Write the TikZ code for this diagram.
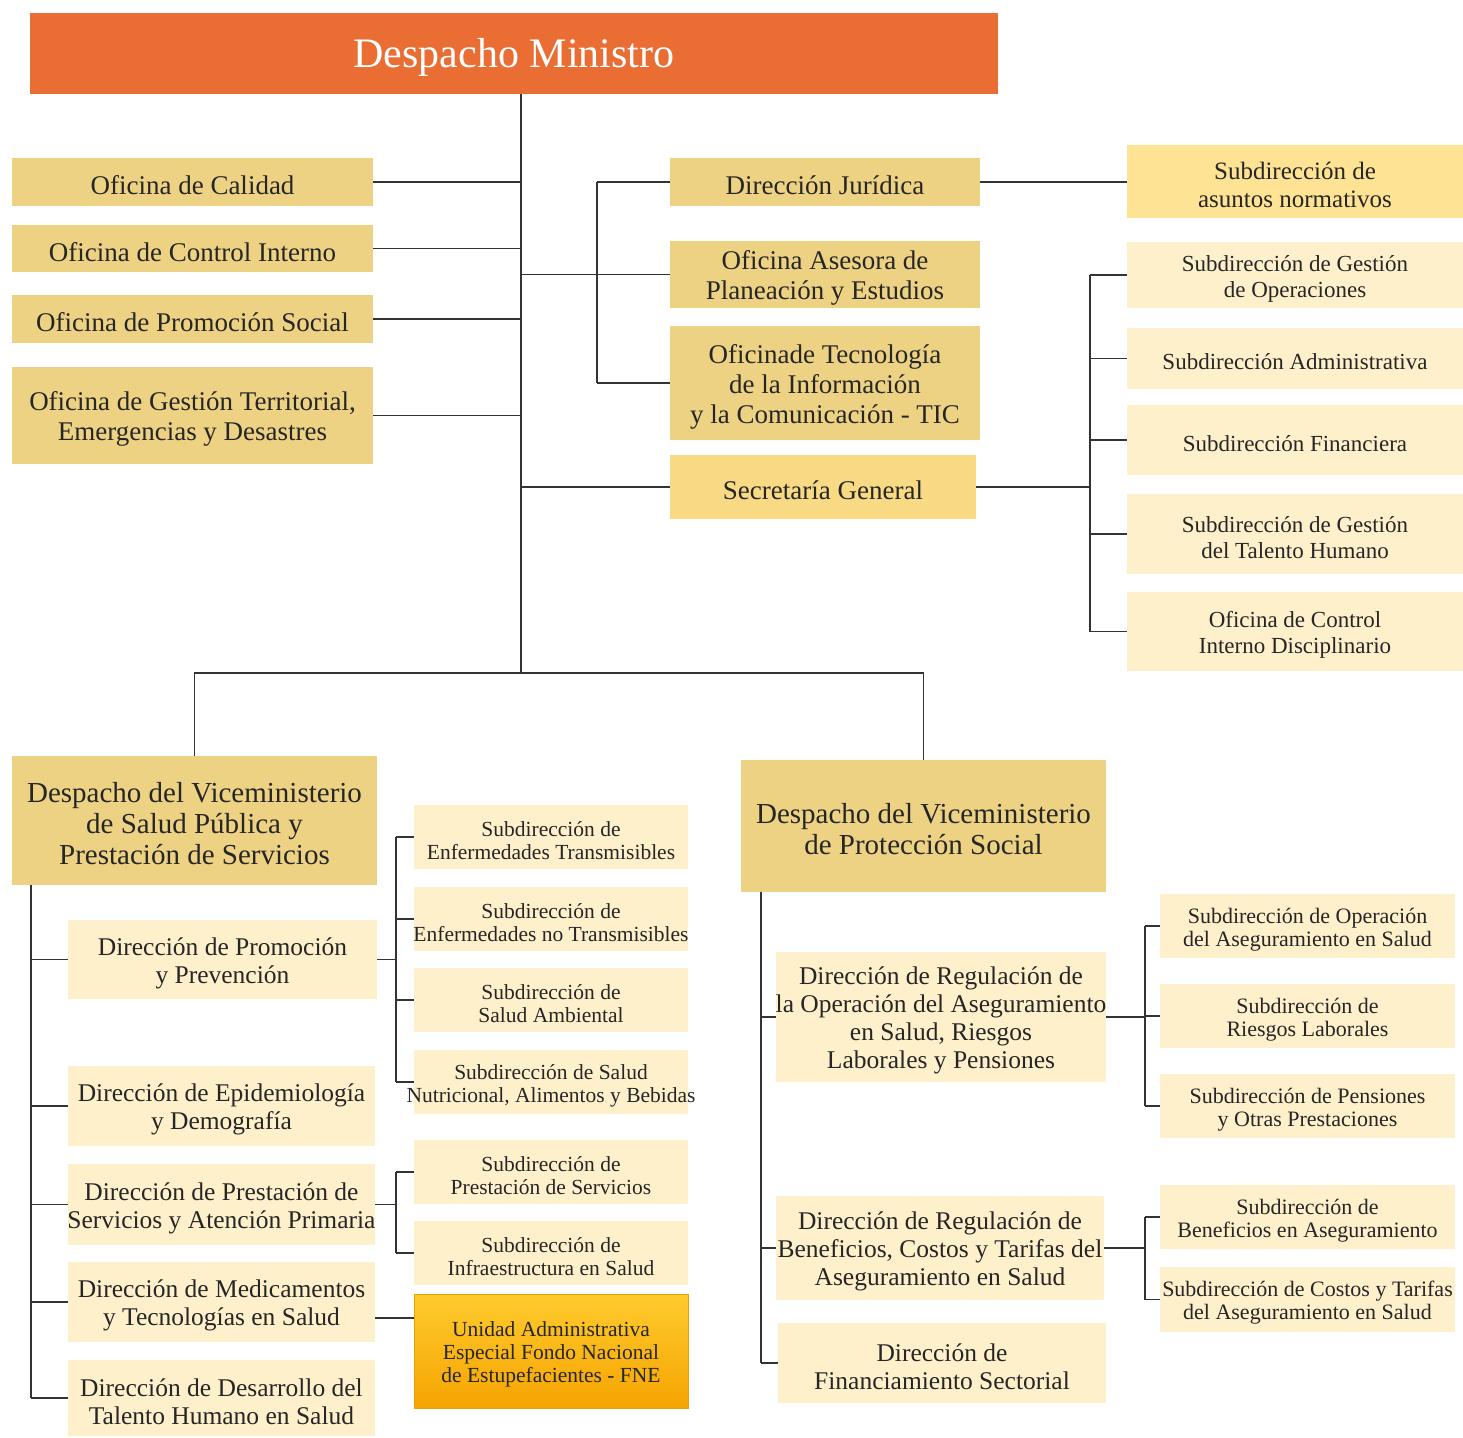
\documentclass[tikz,border=0pt]{standalone}
\usepackage{fontspec}
\setmainfont{Liberation Serif}
\usetikzlibrary{fit}
\definecolor{orng}{HTML}{EA6D33}
\definecolor{tanc}{HTML}{EDD283}
\definecolor{secc}{HTML}{F9DA84}
\definecolor{normc}{HTML}{FFE394}
\definecolor{crm}{HTML}{FFF0CC}
\definecolor{fnetop}{HTML}{FFCB2E}
\definecolor{fnebot}{HTML}{F5A400}
\definecolor{fneln}{HTML}{E9A200}
\definecolor{lnc}{HTML}{333333}
\definecolor{txc}{HTML}{262626}
% \bx{boxstyle}{fontstyle}{name}{x1}{y1}{x2}{y2}{text}
\newcommand{\bx}[8]{%
  \node[fit={(#4,#5)(#6,#7)}, inner sep=0pt, outer sep=0pt, #1] (#3) {};
  \node[inner sep=0pt, align=center, text=txc, yshift=-3.5pt, #2] (#3-t) at (#3.center) {#8};}
\begin{document}
\begin{tikzpicture}[x=1pt,y=-1pt,
  orb/.style={fill=orng},
  tnb/.style={fill=tanc},
  scb/.style={fill=secc},
  nmb/.style={fill=normc},
  crb/.style={fill=crm},
  fneb/.style={top color=fnetop, bottom color=fnebot, draw=fneln, line width=1pt},
  fmin/.style={font=\fontsize{42}{46}\selectfont, text=white},
  fof/.style={font=\fontsize{27}{30}\selectfont},
  fnorm/.style={font=\fontsize{25}{28}\selectfont},
  fsubr/.style={font=\fontsize{23}{26}\selectfont},
  fvice/.style={font=\fontsize{29}{31}\selectfont},
  fdir/.style={font=\fontsize{25.5}{28}\selectfont},
  fsub/.style={font=\fontsize{21.5}{23}\selectfont},
  fsubb/.style={font=\fontsize{22}{23}\selectfont},
  conn/.style={draw=lnc, line width=1.7pt}]
\useasboundingbox (0,0) rectangle (1463,1437);

% top
\bx{orb}{fmin}{min}{30}{13}{998}{94}{Despacho Ministro}

% left offices
\bx{tnb}{fof}{cal}{12}{158}{373}{206}{Oficina de Calidad}
\bx{tnb}{fof}{oci}{12}{225}{373}{272}{Oficina de Control Interno}
\bx{tnb}{fof}{ops}{12}{295}{373}{343}{Oficina de Promoción Social}
\bx{tnb}{fof}{ogt}{12}{367}{373}{464}{Oficina de Gestión Territorial,\\Emergencias y Desastres}

% centre offices
\bx{tnb}{fof}{jur}{670}{158}{980}{206}{Dirección Jurídica}
\bx{tnb}{fof}{ase}{670}{241}{980}{308}{Oficina Asesora de\\Planeación y Estudios}
\bx{tnb}{fof}{tic}{670}{326}{980}{440}{Oficinade Tecnología\\de la Información\\y la Comunicación - TIC}
\bx{scb}{fof}{sec}{670}{455}{976}{519}{Secretaría General}

% right top
\bx{nmb}{fnorm}{nor}{1127}{145}{1463}{218}{Subdirección de\\asuntos normativos}
\bx{crb}{fsubr}{sgo}{1127}{242}{1463}{308}{Subdirección de Gestión\\de Operaciones}
\bx{crb}{fsubr}{sad}{1127}{328}{1463}{389}{Subdirección Administrativa}
\bx{crb}{fsubr}{sfi}{1127}{405}{1463}{475}{Subdirección Financiera}
\bx{crb}{fsubr}{sth}{1127}{494}{1463}{574}{Subdirección de Gestión\\del Talento Humano}
\bx{crb}{fsubr}{ocd}{1127}{592}{1463}{671}{Oficina de Control\\Interno Disciplinario}

% vice ministries
\bx{tnb}{fvice}{vsp}{12}{756}{377}{885}{Despacho del Viceministerio\\de Salud Pública y\\Prestación de Servicios}
\bx{tnb}{fvice}{vps}{741}{760}{1106}{892}{Despacho del Viceministerio\\de Protección Social}

% left directions
\bx{crb}{fdir}{dpp}{68}{920}{377}{999}{Dirección de Promoción\\y Prevención}
\bx{crb}{fdir}{epi}{68}{1066}{375}{1146}{Dirección de Epidemiología\\y Demografía}
\bx{crb}{fdir}{pre}{68}{1164}{375}{1245}{Dirección de Prestación de\\Servicios y Atención Primaria}
\bx{crb}{fdir}{med}{68}{1262}{375}{1342}{Dirección de Medicamentos\\y Tecnologías en Salud}
\bx{crb}{fdir}{dth}{68}{1360}{375}{1436}{Dirección de Desarrollo del\\Talento Humano en Salud}

% left subdirections
\bx{crb}{fsub}{set}{414}{805}{688}{869}{Subdirección de\\Enfermedades Transmisibles}
\bx{crb}{fsub}{snt}{414}{887}{688}{951}{Subdirección de\\Enfermedades no Transmisibles}
\bx{crb}{fsub}{sam}{414}{968}{688}{1032}{Subdirección de\\Salud Ambiental}
\bx{crb}{fsub}{snu}{414}{1050}{688}{1114}{Subdirección de Salud\\Nutricional, Alimentos y Bebidas}
\bx{crb}{fsub}{sps}{414}{1140}{688}{1204}{Subdirección de\\Prestación de Servicios}
\bx{crb}{fsub}{sin}{414}{1221}{688}{1285}{Subdirección de\\Infraestructura en Salud}
\bx{fneb}{fsub}{fne}{414}{1294}{688}{1408}{Unidad Administrativa\\Especial Fondo Nacional\\de Estupefacientes - FNE}

% right directions
\bx{crb}{fdir}{dro}{776}{952}{1106}{1082}{Dirección de Regulación de\\la Operación del Aseguramiento\\en Salud, Riesgos\\Laborales y Pensiones}
\bx{crb}{fdir}{drb}{776}{1196}{1104}{1300}{Dirección de Regulación de\\Beneficios, Costos y Tarifas del\\Aseguramiento en Salud}
\bx{crb}{fdir}{dfs}{778}{1323}{1106}{1403}{Dirección de\\Financiamiento Sectorial}

% right subdirections
\bx{crb}{fsubb}{soa}{1160}{894}{1455}{958}{Subdirección de Operación\\del Aseguramiento en Salud}
\bx{crb}{fsubb}{srl}{1160}{984}{1455}{1048}{Subdirección de\\Riesgos Laborales}
\bx{crb}{fsubb}{spo}{1160}{1074}{1455}{1138}{Subdirección de Pensiones\\y Otras Prestaciones}
\bx{crb}{fsubb}{sba}{1160}{1185}{1455}{1249}{Subdirección de\\Beneficios en Aseguramiento}
\bx{crb}{fsubb}{sct}{1160}{1267}{1455}{1332}{Subdirección de Costos y Tarifas\\del Aseguramiento en Salud}

% spine coordinates
\coordinate (tkB) at (521,673);
\coordinate (brA) at (597,0);
\coordinate (brB) at (1090,0);
\coordinate (spL) at (31,0);
\coordinate (brC) at (396,0);
\coordinate (spR) at (761,0);
\coordinate (brD) at (1145,0);

% trunk
\draw[conn] (min.south -| tkB) -- (tkB);
\foreach \n in {cal,oci,ops,ogt} \draw[conn] (\n.east) -- (\n.east -| tkB);
\draw[conn] (tkB |- ase.west) -- (ase.west);
\draw[conn] (tkB |- sec.west) -- (sec.west);
\draw[conn] (jur.west -| brA) -- (tic.west -| brA);
\foreach \n in {jur,tic} \draw[conn] (brA |- \n.west) -- (\n.west);
\draw[conn] (jur.east) -- (jur.east -| nor.west);

% secretaria
\draw[conn] (sec.east) -- (sec.east -| brB);
\draw[conn] (brB |- sgo.west) -- (brB |- ocd.west);
\foreach \n in {sgo,sad,sfi,sth,ocd} \draw[conn] (brB |- \n.west) -- (\n.west);

% bottom split
\draw[conn] (vsp.north) |- (tkB);
\draw[conn] (tkB) -| (vps.north);

% left vice
\draw[conn] (vsp.south -| spL) -- (spL |- dth.west);
\foreach \n in {dpp,epi,pre,med,dth} \draw[conn] (spL |- \n.west) -- (\n.west);
\draw[conn] (dpp.east) -- (dpp.east -| brC);
\draw[conn] (brC |- set.west) -- (brC |- snu.west);
\foreach \n in {set,snt,sam,snu} \draw[conn] (brC |- \n.west) -- (\n.west);
\draw[conn] (pre.east) -- (pre.east -| brC);
\draw[conn] (brC |- sps.west) -- (brC |- sin.west);
\foreach \n in {sps,sin} \draw[conn] (brC |- \n.west) -- (\n.west);
\coordinate (mfc) at ([yshift=-16pt]med.east);
\draw[conn] (mfc) -- (mfc -| fne.west);

% right vice
\draw[conn] (vps.south -| spR) -- (spR |- dfs.west);
\foreach \n in {dro,drb,dfs} \draw[conn] (spR |- \n.west) -- (\n.west);
\draw[conn] (dro.east) -- (dro.east -| brD);
\draw[conn] (brD |- soa.west) -- (brD |- spo.west);
\foreach \n in {soa,srl,spo} \draw[conn] (brD |- \n.west) -- (\n.west);
\draw[conn] (drb.east) -- (drb.east -| brD);
\draw[conn] (brD |- sba.west) -- (brD |- sct.west);
\foreach \n in {sba,sct} \draw[conn] (brD |- \n.west) -- (\n.west);
\end{tikzpicture}
\end{document}
